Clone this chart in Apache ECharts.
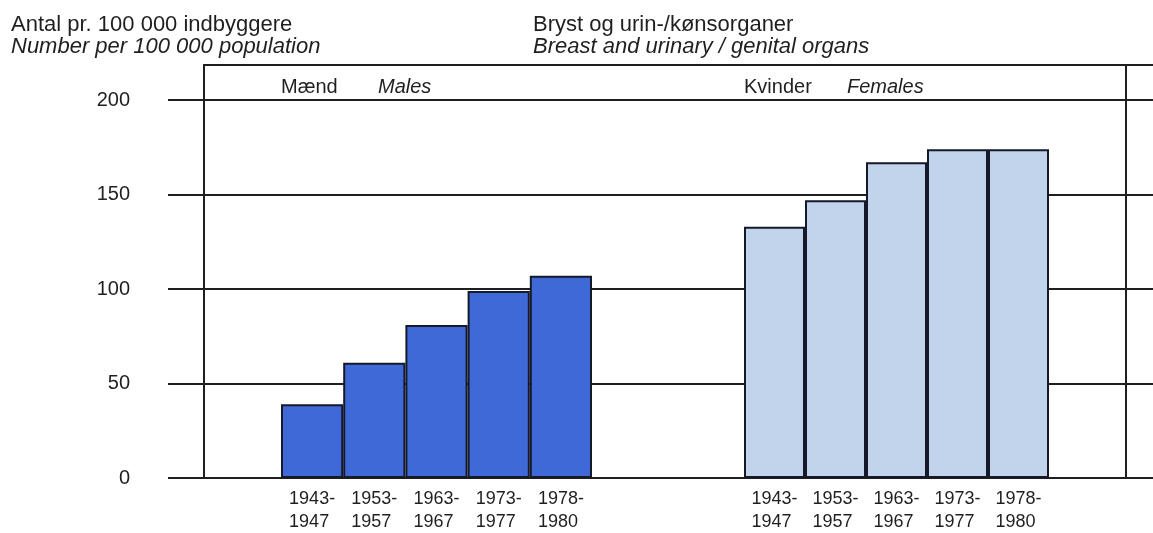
<!DOCTYPE html>
<html>
<head>
<meta charset="utf-8">
<script src="https://cdn.jsdelivr.net/npm/echarts@6/dist/echarts.min.js"></script>
<style>
  html, body { margin: 0; padding: 0; background: #fff; }
  #chart { width: 1153px; height: 533px; }
</style>
</head>
<body>
<div id="chart"></div>
<script>
    "use strict";

    // periods on the x axis (same for both panels)
    var periods = ['1943-\n1947', '1953-\n1957', '1963-\n1967', '1973-\n1977', '1978-\n1980'];

    // rate per 100 000 population
    var males = [39, 61, 81, 99, 107];
    var females = [133, 147, 167, 174, 174];

    var yTicks = [0, 50, 100, 150, 200];

    var ink = '#1f1f1f';
    var font = 'Liberation Sans, Arial, Helvetica, sans-serif';

    var chart = echarts.init(document.getElementById('chart'));

    function periodLabel(v) {
        return v.split('\n').map(function(s) { return '{a|' + s + '}'; }).join('\n');
    }

    var periodAxis = function(grid) {
        return {
            type: 'category',
            gridIndex: grid,
            data: periods,
            axisLine: { show: false },
            axisTick: { show: false },
            splitLine: { show: false },
            axisLabel: {
                interval: 0,
                margin: 10,
                formatter: periodLabel,
                rich: {
                    a: { width: 46, align: 'left', fontSize: 18, lineHeight: 23, color: ink, fontFamily: font }
                }
            }
        };
    };

    var hiddenY = function(grid) {
        return {
            type: 'value', gridIndex: grid, min: 0, max: 200,
            axisLine: { show: false }, axisTick: { show: false },
            axisLabel: { show: false }, splitLine: { show: false }
        };
    };

    var frameLine = { show: true, onZero: false, lineStyle: { color: ink, width: 2 } };

    var option = {
        animation: false,
        textStyle: { fontFamily: font },
        title: [
            {
                text: 'Antal pr. 100 000 indbyggere',
                subtext: 'Number per 100 000 population',
                left: 6, top: 9, itemGap: 0,
                textStyle: { fontSize: 22, fontWeight: 'normal', color: ink, fontFamily: font },
                subtextStyle: { fontSize: 22, fontStyle: 'italic', color: ink, fontFamily: font }
            },
            {
                text: 'Bryst og urin-/kønsorganer',
                subtext: 'Breast and urinary / genital organs',
                left: 528, top: 9, itemGap: 0,
                textStyle: { fontSize: 22, fontWeight: 'normal', color: ink, fontFamily: font },
                subtextStyle: { fontSize: 22, fontStyle: 'italic', color: ink, fontFamily: font }
            },
            { text: 'Mænd', left: 276, top: 72, textStyle: { fontSize: 20, fontWeight: 'normal', color: ink } },
            { text: 'Males', left: 373, top: 72, textStyle: { fontSize: 20, fontWeight: 'normal', fontStyle: 'italic', color: ink } },
            { text: 'Kvinder', left: 739, top: 72, textStyle: { fontSize: 20, fontWeight: 'normal', color: ink } },
            { text: 'Females', left: 842, top: 72, textStyle: { fontSize: 20, fontWeight: 'normal', fontStyle: 'italic', color: ink } }
        ],
        grid: [
            // horizontal rules with the value labels
            { left: 168, right: 0, top: 100, bottom: 55 },
            // frame
            { left: 204, right: 0, top: 65, bottom: 55 },
            // males
            { left: 281, width: 311, top: 100, bottom: 55 },
            // females
            { left: 744, width: 305, top: 100, bottom: 55 }
        ],
        xAxis: [
            { type: 'category', gridIndex: 0, show: false },
            {
                type: 'value', gridIndex: 1, position: 'top', min: 0, max: 1,
                axisLine: frameLine,
                axisTick: { show: false }, axisLabel: { show: false }, splitLine: { show: false }
            },
            periodAxis(2),
            periodAxis(3)
        ],
        yAxis: [
            {
                type: 'value', gridIndex: 0, min: yTicks[0], max: yTicks[yTicks.length - 1], interval: 50,
                axisLine: { show: false }, axisTick: { show: false },
                axisLabel: { margin: 38, fontSize: 20, color: ink, fontFamily: font },
                splitLine: { lineStyle: { color: ink, width: 2 } }
            },
            {
                type: 'value', gridIndex: 1, min: 0, max: 1,
                axisLine: frameLine,
                axisTick: { show: false }, axisLabel: { show: false }, splitLine: { show: false }
            },
            {
                type: 'value', gridIndex: 1, min: 0, max: 1, position: 'right', offset: -27,
                axisLine: frameLine,
                axisTick: { show: false }, axisLabel: { show: false }, splitLine: { show: false }
            },
            hiddenY(2),
            hiddenY(3)
        ],
        series: [
            {
                name: 'Mænd',
                type: 'bar',
                xAxisIndex: 2, yAxisIndex: 3,
                barCategoryGap: '0%',
                itemStyle: { color: '#3e69d6', borderColor: '#15192a', borderWidth: 2 },
                data: males
            },
            {
                name: 'Kvinder',
                type: 'bar',
                xAxisIndex: 3, yAxisIndex: 4,
                barCategoryGap: '0%',
                itemStyle: { color: '#c2d3ec', borderColor: '#15192a', borderWidth: 2 },
                data: females
            }
        ]
    };

    chart.setOption(option);
</script>
</body>
</html>
